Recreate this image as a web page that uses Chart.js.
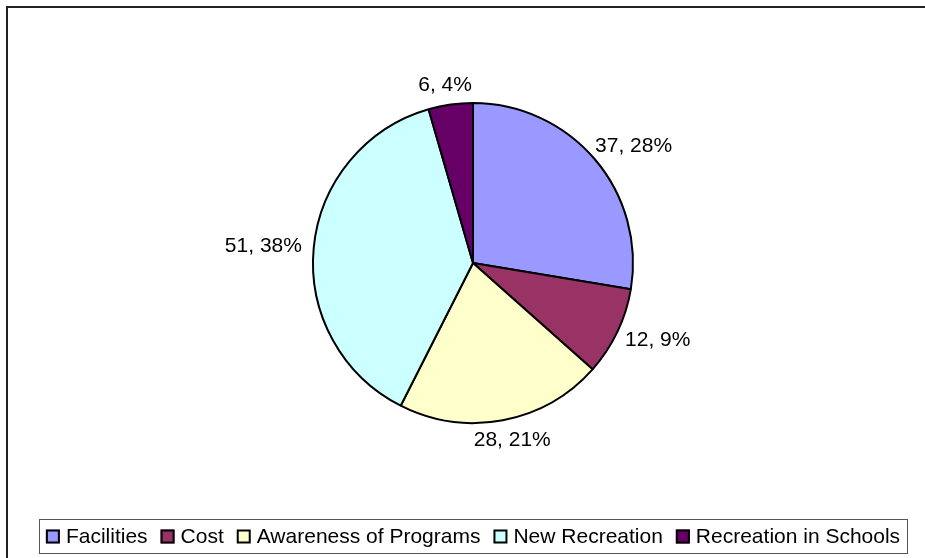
<!DOCTYPE html>
<html>
<head>
<meta charset="utf-8">
<script src="https://cdn.jsdelivr.net/npm/chart.js@4/dist/chart.umd.min.js"></script>
<style>
  html, body { margin: 0; padding: 0; background: #fff; }
  #wrap { width: 925px; height: 558px; position: relative; }
</style>
</head>
<body>
<div id="wrap"><canvas id="pieChart" width="925" height="558"></canvas></div>
<script>
var categories = ['Facilities', 'Cost', 'Awareness of Programs', 'New Recreation', 'Recreation in Schools'];
var counts = [37, 12, 28, 51, 6];
var sliceColors = ['#9999FF', '#993366', '#FFFFCC', '#CCFFFF', '#660066'];

var FONT = '21px "Liberation Sans", Arial, sans-serif';

// frame round the whole chart (only top and left show in the picture)
var framePlugin = {
	id: 'frame',
	beforeDraw: function(chart)
	{
		var ctx = chart.ctx;
		ctx.save();
		ctx.strokeStyle = '#222';
		ctx.lineWidth = 2;
		ctx.beginPath();
		ctx.moveTo(7, chart.height);
		ctx.lineTo(7, 7);
		ctx.lineTo(chart.width, 7);
		ctx.stroke();
		ctx.restore();
	}
};

// "value, percent" labels just outside each slice
var sliceLabelPlugin = {
	id: 'sliceLabels',
	afterDatasetsDraw: function(chart)
	{
		var ctx = chart.ctx;
		var meta = chart.getDatasetMeta(0);
		var data = chart.data.datasets[0].data;
		var total = data.reduce(function(a, b){ return a + b; }, 0);
		ctx.save();
		ctx.font = FONT;
		ctx.fillStyle = '#000';
		ctx.textAlign = 'center';
		ctx.textBaseline = 'middle';
		meta.data.forEach(function(arc, i)
		{
			var mid = (arc.startAngle + arc.endAngle) / 2;
			var cx = Math.cos(mid), cy = Math.sin(mid);
			var text = data[i] + ', ' + Math.round(data[i] / total * 100) + '%';
			var w = ctx.measureText(text).width;
			var h = 16;
			var r = arc.outerRadius + 12;
			var x = arc.x + r * cx + (w / 2) * cx;
			var y = arc.y + r * cy + (h / 2) * cy;
			ctx.fillText(text, x, y);
		});
		ctx.restore();
	}
};

// boxed legend under the pie, Excel style
var boxLegendPlugin = {
	id: 'boxLegend',
	afterDraw: function(chart)
	{
		var ctx = chart.ctx;
		var labels = chart.data.labels;
		var colors = chart.data.datasets[0].backgroundColor;
		var box = 14, gapText = 6, gapItem = 13, padX = 7;
		ctx.save();
		ctx.font = FONT;
		var widths = labels.map(function(t){ return ctx.measureText(t).width; });
		var total = 0;
		widths.forEach(function(w){ total += box + gapText + w; });
		total += gapItem * (labels.length - 1);
		var centerX = (chart.chartArea.left + chart.chartArea.right) / 2;
		var left = centerX - total / 2;
		var top = 519, height = 34;

		ctx.strokeStyle = '#555';
		ctx.lineWidth = 1;
		ctx.strokeRect(Math.round(left - padX) + 0.5, top + 0.5, Math.round(total + 2 * padX), height);

		var x = left;
		var midY = top + height / 2 + 0.5;
		ctx.textBaseline = 'middle';
		ctx.textAlign = 'left';
		labels.forEach(function(t, i)
		{
			ctx.fillStyle = colors[i];
			ctx.fillRect(x, midY - box / 2, box, box);
			ctx.strokeStyle = '#000';
			ctx.lineWidth = 2;
			ctx.strokeRect(x + 1, midY - box / 2 + 1, box - 2, box - 2);
			ctx.fillStyle = '#000';
			ctx.fillText(t, x + box + gapText, midY + 1);
			x += box + gapText + widths[i] + gapItem;
		});
		ctx.restore();
	}
};

var ctx = document.getElementById('pieChart').getContext('2d');

var pieChart = new Chart(ctx,
{
	type: 'pie',
	data:
	{
		labels: categories,
		datasets: [{
			data: counts,
			backgroundColor: sliceColors,
			borderColor: '#000',
			borderWidth: 2
		}]
	},
	options:
	{
		responsive: false,
		animation: false,
		layout: { padding: { left: 312, right: 291, top: 102, bottom: 134 } },
		plugins:
		{
			legend: { display: false },
			tooltip: { enabled: false }
		}
	},
	plugins: [framePlugin, sliceLabelPlugin, boxLegendPlugin]
});
</script>
</body>
</html>
